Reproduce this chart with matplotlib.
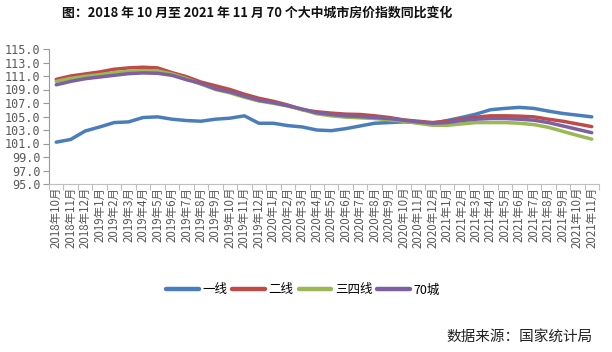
import matplotlib
matplotlib.use("Agg")
import matplotlib.pyplot as plt
from matplotlib.ticker import FixedLocator

plt.rcParams['font.family'] = ['Noto Sans CJK SC', 'DejaVu Sans']

months = []
for y, m0, m1 in [(2018, 10, 12), (2019, 1, 12), (2020, 1, 12), (2021, 1, 11)]:
    for m in range(m0, m1 + 1):
        months.append(f"{y}年{m}月")

tier1 = [101.2, 101.6, 102.85, 103.45, 104.1, 104.2, 104.85, 104.95, 104.6, 104.4,
         104.3, 104.6, 104.75, 105.1, 104.0, 104.0, 103.65, 103.45, 103.0, 102.9,
         103.2, 103.6, 104.0, 104.1, 104.2, 104.1, 104.0, 104.4, 104.85, 105.35,
         106.0, 106.2, 106.35, 106.2, 105.8, 105.45, 105.2, 104.95]
tier2 = [110.5, 111.0, 111.3, 111.6, 112.0, 112.2, 112.3, 112.2, 111.5, 110.9,
         110.1, 109.55, 109.0, 108.3, 107.7, 107.25, 106.7, 106.0, 105.7, 105.5,
         105.35, 105.3, 105.1, 104.85, 104.5, 104.3, 104.1, 104.3, 104.6, 104.9,
         105.1, 105.1, 105.05, 104.95, 104.6, 104.3, 103.9, 103.5]
tier34 = [110.2, 110.65, 110.95, 111.2, 111.5, 111.7, 111.8, 111.75, 111.3, 110.6,
          109.8, 109.0, 108.5, 107.85, 107.3, 106.95, 106.55, 106.0, 105.4, 105.1,
          104.9, 104.8, 104.7, 104.5, 104.3, 104.0, 103.7, 103.7, 103.9, 104.1,
          104.1, 104.1, 104.0, 103.8, 103.4, 102.8, 102.2, 101.65]
city70 = [109.7, 110.2, 110.6, 110.85, 111.1, 111.35, 111.45, 111.4, 111.1, 110.45,
          109.9, 109.1, 108.65, 108.0, 107.4, 107.05, 106.6, 106.1, 105.55, 105.3,
          105.1, 105.0, 104.85, 104.7, 104.45, 104.2, 104.0, 104.1, 104.4, 104.6,
          104.7, 104.7, 104.6, 104.45, 104.1, 103.6, 103.1, 102.6]

series_names = ["一线", "二线", "三四线", "70城"]
colors = ["#4A7EBB", "#BE4B48", "#98B954", "#7D60A0"]
yticks = [95 + 2*i for i in range(11)]

title = "图：2018 年 10 月至 2021 年 11 月 70 个大中城市房价指数同比变化"
source = "数据来源：国家统计局"

fig = plt.figure(figsize=(6.12, 3.52), dpi=100)
ax = fig.add_axes([49/612, 1-184/352, 550/612, 135/352])

x = list(range(len(months)))
for vals, name, c in zip([tier1, tier2, tier34, city70], series_names, colors):
    ax.plot(x, vals, color=c, lw=2.5, label=name, solid_joinstyle='round',
            solid_capstyle='round')

ax.set_xlim(-0.5, len(months) - 0.5)
ax.set_ylim(95, 115)
ax.set_yticks(yticks)
ax.set_yticklabels([f"{v:.1f}" for v in yticks],
                   family='DejaVu Sans Mono', fontsize=8.5, color='#595959')
ax.set_xticks(x)
ax.set_xticklabels(months, rotation=90, fontsize=8.3, color='#595959',
                   va='top', ha='center')
ax.xaxis.set_minor_locator(FixedLocator([i - 0.5 for i in range(len(months) + 1)]))
ax.tick_params(axis='x', which='major', length=0, pad=2)
ax.tick_params(axis='x', which='minor', length=4, color='#BFBFBF', width=0.8)
ax.tick_params(axis='y', length=4, color='#999999', width=0.8, pad=2)

for s in ['top', 'right']:
    ax.spines[s].set_visible(False)
ax.spines['left'].set_color('#999999')
ax.spines['bottom'].set_color('#BFBFBF')
ax.spines['left'].set_linewidth(0.8)
ax.spines['bottom'].set_linewidth(0.8)

fig.text(257/612, 1-13/352, title, ha='center', va='center', fontsize=9.3,
         fontweight='bold', color='#111111')

fig.legend(loc='center', bbox_to_anchor=(303/612, 1-290/352), ncol=4,
           frameon=False, fontsize=9, handlelength=2.6, handletextpad=0.3,
           columnspacing=0.4, borderaxespad=0)
for line in fig.legends[0].get_lines():
    line.set_linewidth(3.2)

fig.text(593/612, 1-338/352, source, ha='right', va='center', fontsize=10.5,
         color='#222222')

fig.savefig("out.png", dpi=100)
